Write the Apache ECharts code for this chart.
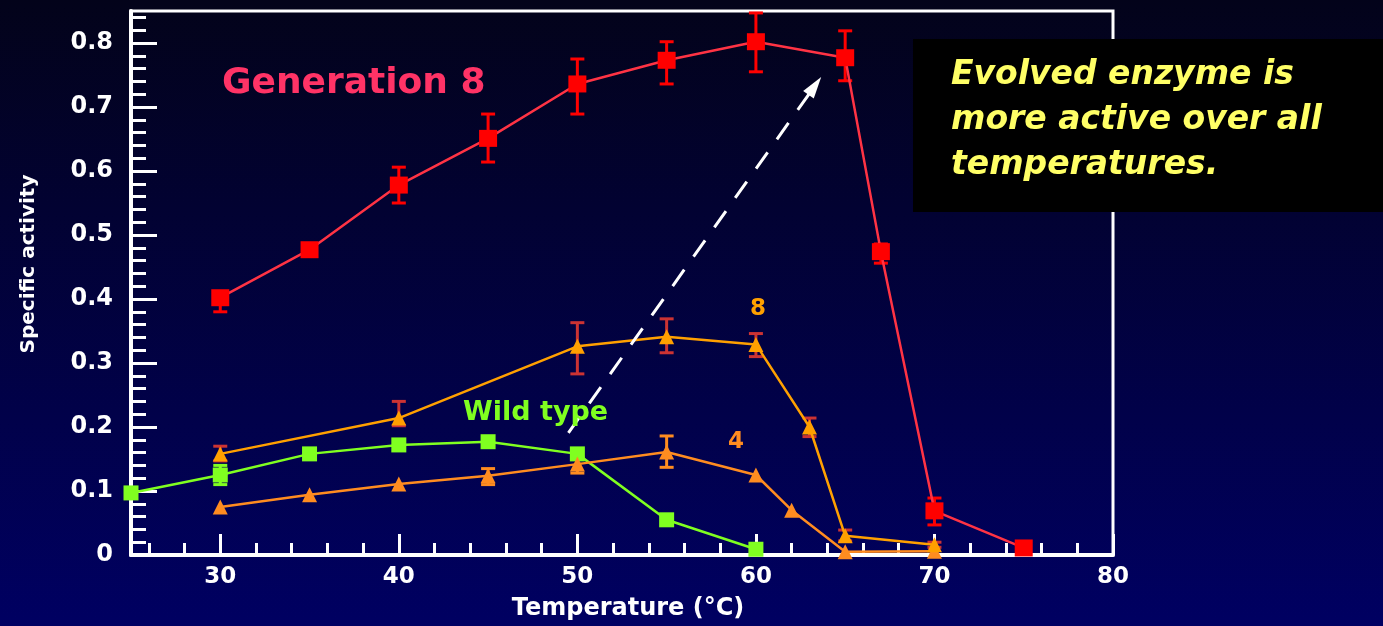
<!DOCTYPE html>
<html>
<head>
<meta charset="utf-8">
<script src="https://cdn.jsdelivr.net/npm/echarts@6/dist/echarts.min.js"></script>
<style>
html,body{margin:0;padding:0;background:#000040;}
#main{width:1383px;height:626px;}
</style>
</head>
<body>
<div id="main"></div>
<script>
// generation 8
var gen8Temp = [30, 35, 40, 45, 50, 55, 60, 65, 67, 70, 75];
var gen8Act  = [0.402, 0.477, 0.578, 0.651, 0.736, 0.773, 0.802, 0.777, 0.474, 0.069, 0.011];
var gen8Lo   = [0.380, null, 0.550, 0.614, 0.689, 0.736, 0.755, 0.741, 0.456, 0.047, null];
var gen8Hi   = [0.410, null, 0.606, 0.689, 0.775, 0.802, 0.847, 0.819, 0.486, 0.089, null];
// mutant 8
var mut8Temp = [30, 40, 50, 55, 60, 63, 65, 70];
var mut8Act  = [0.158, 0.214, 0.326, 0.341, 0.329, 0.200, 0.030, 0.016];
var mut8Lo   = [0.147, 0.202, 0.283, 0.316, 0.310, 0.185, 0.022, 0.012];
var mut8Hi   = [0.170, 0.240, 0.363, 0.369, 0.346, 0.214, 0.039, 0.020];
// mutant 4
var mut4Temp = [30, 35, 40, 45, 50, 55, 60, 62, 65, 70];
var mut4Act  = [0.075, 0.094, 0.111, 0.124, 0.142, 0.161, 0.125, 0.070, 0.005, 0.006];
var mut4Lo   = [null, null, null, 0.110, 0.128, 0.137, null, null, null, null];
var mut4Hi   = [null, null, null, 0.135, 0.153, 0.186, null, null, null, null];
// wild type
var wildTemp = [25, 30, 35, 40, 45, 50, 55, 60];
var wildAct  = [0.097, 0.125, 0.158, 0.172, 0.177, 0.158, 0.055, 0.009];
var wildLo   = [null, 0.110, null, null, null, null, null, null];
var wildHi   = [null, 0.140, null, null, null, null, null, null];

var xTicks = [30, 40, 50, 60, 70, 80];
var yTicks = [0, 0.1, 0.2, 0.3, 0.4, 0.5, 0.6, 0.7, 0.8];
var arrowFrom = [49.5, 0.191];
var arrowTo = [63.3, 0.733];

var xMinor = [];
for (var t = 26; t < 80; t += 2) { if (t % 10 !== 0) xMinor.push(t); }
var yMinor = [];
for (var k = 1; k <= 42; k++) { if (k % 5 !== 0) yMinor.push(Math.round(k * 2) / 100); }

function pairs(t, v) {
    var out = [];
    for (var i = 0; i < t.length; i++) out.push([t[i], v[i]]);
    return out;
}
function errData(t, lo, hi) {
    var out = [];
    for (var i = 0; i < t.length; i++) {
        if (lo[i] != null) out.push([t[i], lo[i], hi[i]]);
    }
    return out;
}
function errSeries(data, color) {
    return {
        type: 'custom',
        z: 1,
        silent: true,
        data: data,
        renderItem: function (params, api) {
            var a = api.coord([api.value(0), api.value(1)]);
            var b = api.coord([api.value(0), api.value(2)]);
            var st = {stroke: color, lineWidth: 3};
            return {
                type: 'group',
                children: [
                    {type: 'line', shape: {x1: a[0], y1: a[1], x2: b[0], y2: b[1]}, style: st},
                    {type: 'line', shape: {x1: a[0] - 7, y1: a[1], x2: a[0] + 7, y2: a[1]}, style: st},
                    {type: 'line', shape: {x1: b[0] - 7, y1: b[1], x2: b[0] + 7, y2: b[1]}, style: st}
                ]
            };
        }
    };
}
function lineSeries(data, symbol, size, markColor, lineColor) {
    return {
        type: 'line',
        z: 3,
        data: data,
        symbol: symbol,
        symbolSize: size,
        showAllSymbol: true,
        itemStyle: {color: markColor},
        lineStyle: {color: lineColor, width: 2.5}
    };
}

var font = 'DejaVu Sans';
var dom = document.getElementById('main');
var myChart = echarts.init(dom);
var option = {
    animation: false,
    backgroundColor: {
        type: 'linear', x: 0, y: 0, x2: 0, y2: 1,
        colorStops: [{offset: 0, color: '#03031a'}, {offset: 1, color: '#000062'}]
    },
    grid: {
        left: 131, right: 270, top: 11, bottom: 71,
        show: true, borderColor: '#ffffff', borderWidth: 3, backgroundColor: 'transparent'
    },
    xAxis: [{
        type: 'value', min: 25, max: 80,
        name: 'Temperature (°C)', nameLocation: 'middle', nameGap: 42,
        nameTextStyle: {color: '#fff', fontFamily: font, fontSize: 24, fontWeight: 'bold', padding: [0, 0, 0, 12]},
        axisLine: {show: true, lineStyle: {color: '#fff', width: 4}},
        axisTick: {show: true, inside: true, length: 21, customValues: xTicks, lineStyle: {color: '#fff', width: 3}},
        axisLabel: {color: '#fff', fontFamily: font, fontSize: 23, fontWeight: 'bold', margin: 11, customValues: xTicks},
        splitLine: {show: false}
    }, {
        type: 'value', min: 25, max: 80, position: 'bottom',
        axisLine: {show: false},
        axisTick: {show: true, inside: true, length: 12, customValues: xMinor, lineStyle: {color: '#fff', width: 3}},
        axisLabel: {show: false},
        splitLine: {show: false}
    }],
    yAxis: [{
        type: 'value', min: 0, max: 0.85,
        name: 'Specific activity', nameLocation: 'middle', nameGap: 92,
        nameTextStyle: {color: '#fff', fontFamily: font, fontSize: 20, fontWeight: 'bold', padding: [0, 0, 0, 38]},
        axisLine: {show: true, lineStyle: {color: '#fff', width: 4}},
        axisTick: {show: true, inside: true, length: 26, customValues: yTicks, lineStyle: {color: '#fff', width: 3}},
        axisLabel: {color: '#fff', fontFamily: font, fontSize: 24, fontWeight: 'bold', margin: 18, customValues: yTicks},
        splitLine: {show: false}
    }, {
        type: 'value', min: 0, max: 0.85, position: 'left',
        axisLine: {show: false},
        axisTick: {show: true, inside: true, length: 15, customValues: yMinor, lineStyle: {color: '#fff', width: 3}},
        axisLabel: {show: false},
        splitLine: {show: false}
    }],
    series: [
        errSeries(errData(wildTemp, wildLo, wildHi), '#80ff20'),
        errSeries(errData(mut4Temp, mut4Lo, mut4Hi), '#ff8c20'),
        errSeries(errData(mut8Temp, mut8Lo, mut8Hi), '#cc3333'),
        errSeries(errData(gen8Temp, gen8Lo, gen8Hi), '#ff0000'),
        (function () {
            var s = lineSeries(pairs(wildTemp, wildAct), 'rect', 15, '#80ff20', '#80ff20');
            s.markLine = {
                silent: true,
                symbol: ['none', 'triangle'],
                symbolSize: [13, 22],
                label: {show: false},
                lineStyle: {color: '#ffffff', width: 3, type: [20, 16]},
                data: [[{coord: arrowFrom}, {coord: arrowTo}]]
            };
            return s;
        })(),
        lineSeries(pairs(mut4Temp, mut4Act), 'triangle', 15, '#ff8c20', '#ff8c20'),
        lineSeries(pairs(mut8Temp, mut8Act), 'triangle', 15, '#ffa000', '#ffa000'),
        lineSeries(pairs(gen8Temp, gen8Act), 'rect', [18, 17], '#ff0000', '#ff3344')
    ],
    graphic: [
        {type: 'text', z: 100, left: 222, top: 66,
         style: {text: 'Generation 8', fill: '#ff3366', font: 'bold 36px ' + font}},
        {type: 'text', z: 100, left: 463, top: 399,
         style: {text: 'Wild type', fill: '#80ff20', font: 'bold 27px ' + font}},
        {type: 'text', z: 100, left: 750, top: 298,
         style: {text: '8', fill: '#ffa000', font: 'bold 23px ' + font}},
        {type: 'text', z: 100, left: 728, top: 431,
         style: {text: '4', fill: '#ff8c20', font: 'bold 23px ' + font}},
        {type: 'rect', z: 100, shape: {x: 913, y: 39, width: 470, height: 173},
         style: {fill: '#000000'}},
        {type: 'text', z: 101, left: 951, top: 53,
         style: {text: 'Evolved enzyme is\nmore active over all\ntemperatures.',
                 fill: '#ffff66', font: 'italic bold 33px ' + font, lineHeight: 45}}
    ]
};
myChart.setOption(option, true);
</script>
</body>
</html>
